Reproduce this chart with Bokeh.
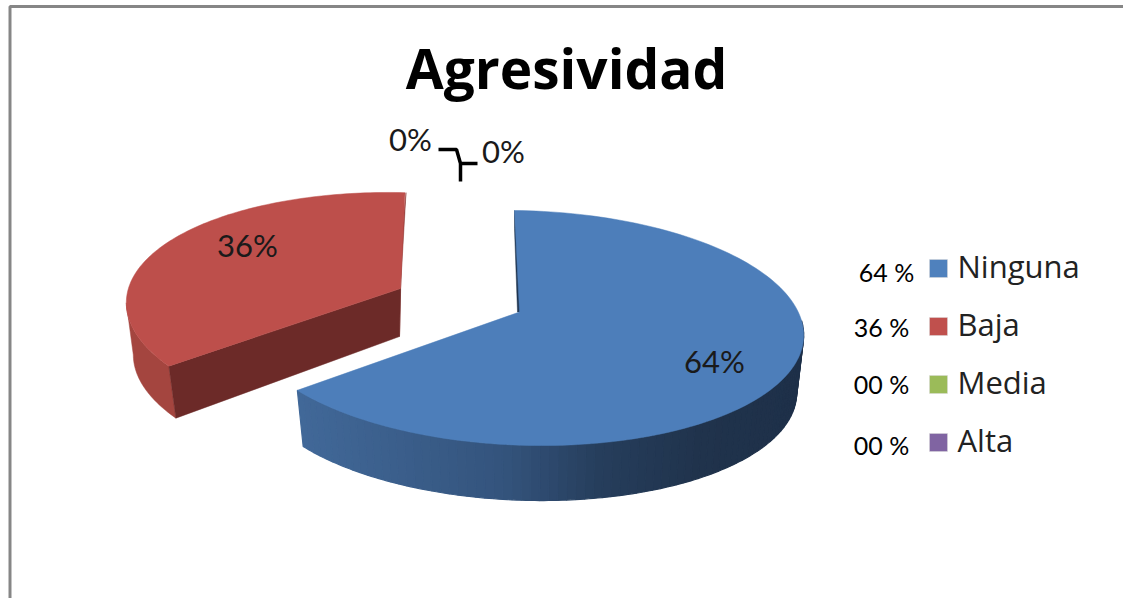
import numpy as np
from bokeh.plotting import figure
from bokeh.embed import file_html
from bokeh.resources import INLINE
from bokeh.core.properties import value

# ---- data ----
title = "Agresividad"
categories = ["Ninguna", "Baja", "Media", "Alta"]
percent = [64, 36, 0, 0]
legend_notes = ["64 %", "36 %", "00 %", "00 %"]
slice_labels = ["64%", "36%", "0%", "0%"]
colors = ["#4f81bd", "#c0504d", "#9bbb59", "#8064a2"]

W, H = 1123, 598
p = figure(width=W, height=H, x_range=(0, W), y_range=(H, 0), output_backend="svg",
           toolbar_location=None, min_border=0, outline_line_color=None,
           margin=(0, 0, 0, 0))
p.xaxis.visible = False
p.yaxis.visible = False
p.grid.visible = False
p.background_fill_color = "white"
p.border_fill_color = "white"

# chart frame
p.line([9.5, 9.5, W], [H, 6, 6], line_color="#868686", line_width=3)

# ---- pie geometry (tilted ellipse in screen space) ----
A, B, S, T = 279.0, 117.5, 10.0, 3.0


def rim(theta_deg, cx, cy, a=A, b=B):
    t = np.radians(theta_deg)
    return cx + a * np.sin(t) - S * np.cos(t), cy - b * np.cos(t) + T * np.sin(t)


def lerp_color(x, stops):
    xs = [s[0] for s in stops]
    rgb = [np.interp(x, xs, [s[1][i] for s in stops]) for i in range(3)]
    return "#%02x%02x%02x" % tuple(int(round(v)) for v in rgb)


# blue slice
bc = (524.0, 327.5)
bb = (524.0, 385.0)
apex_b = (519.0, 311.5)
blue_end = percent[0] * 3.6 * 1.0265
stops = [(300, (65, 104, 152)), (500, (52, 84, 125)), (600, (38, 62, 92)),
         (700, (32, 51, 76)), (800, (30, 48, 73))]
edges = np.linspace(85, blue_end, 80)
for t0, t1 in zip(edges[:-1], edges[1:]):
    ts = np.linspace(t0, t1, 3)
    xt, yt = rim(ts, *bc)
    xb, yb = rim(ts[::-1], *bb, a=272, b=115)
    col = lerp_color(xt.mean(), stops)
    p.patch(np.r_[xt, xb], np.r_[yt, yb], fill_color=col, line_color=col, line_width=1.2)

# thin inner wall at the slice start
sx, sy = rim(0, *bc)
p.patch([sx, apex_b[0] + 3, apex_b[0] - 2, sx], [sy, apex_b[1], apex_b[1], sy + 18],
        fill_color="#1f3550", line_color="#1f3550", line_width=0.5)

ts = np.linspace(0, blue_end, 160)
xt, yt = rim(ts, *bc)
p.patch(np.r_[apex_b[0], xt], np.r_[apex_b[1], yt], fill_color="#4d7eba", line_color="#4d7eba", line_width=0.5)

# red slice (pulled out)
rc = (405.0, 309.5)
apex_r = (400.0, 288.0)
drop = (7.0, 52.0)
red_start = 240.0
red_end = red_start + percent[1] * 3.6 * 0.941

# right sliver
ex, ey = rim(red_end, *rc)
p.patch([ex + 1, apex_r[0], apex_r[0] - 1, ex - 3], [ey, apex_r[1], apex_r[1] + 48, ey + 40],
        fill_color="#8a3633", line_color="#8a3633", line_width=0.5)

# outer wall
ts = np.linspace(red_start, 272, 40)
xt, yt = rim(ts, *rc)
xb, yb = xt + drop[0], yt + drop[1]
p.patch(np.r_[xt, xb[::-1]], np.r_[yt, yb[::-1]], fill_color="#a4453f", line_color="#a4453f", line_width=0.5)

# inner wall
cx0, cy0 = rim(red_start, *rc)
p.patch([cx0, apex_r[0], apex_r[0] - 1, cx0 + drop[0]],
        [cy0, apex_r[1], apex_r[1] + 48, cy0 + drop[1]],
        fill_color="#6c2a28", line_color="#6c2a28", line_width=0.5)

ts = np.linspace(red_start, red_end, 120)
xt, yt = rim(ts, *rc)
p.patch(np.r_[apex_r[0], xt], np.r_[apex_r[1], yt], fill_color="#bd4f4b", line_color="#bd4f4b", line_width=0.5)

# title
p.text([566], [67], text=[title], text_font=value("Open Sans"), text_font_style="bold",
       text_font_size="55px", text_align="center", text_baseline="middle", text_color="#000000")

# data labels
p.text([714, 247, 410, 503], [360, 244, 138, 150], text=slice_labels,
       text_font=value("Lato"), text_font_size="31px", text_align="center",
       text_baseline="middle", text_color="#1a1a1a")

# leader lines of the empty slices
p.line([438, 456, 460, 460], [149, 149, 163, 181], line_color="#000000", line_width=3.5)
p.line([460, 477], [163, 163], line_color="#000000", line_width=3.5)

# legend
leg_y = [268, 326, 384, 442]
note_x = [886, 881, 881, 881]
note_y = [271, 326, 383, 444]
p.rect([938] * 4, leg_y, width=18, height=18, fill_color=colors, line_color="#d8d8d8", line_width=0.5)
p.text([957] * 4, [y - 3 for y in leg_y], text=categories, text_font=value("Open Sans"), text_font_size="31px",
       text_align="left", text_baseline="middle", text_color="#222222")
p.text(note_x, note_y, text=legend_notes, text_font=value("Lato"), text_font_size="25px",
       text_align="center", text_baseline="middle", text_color="#000000")

open("out.html", "w").write(file_html(p, INLINE))
